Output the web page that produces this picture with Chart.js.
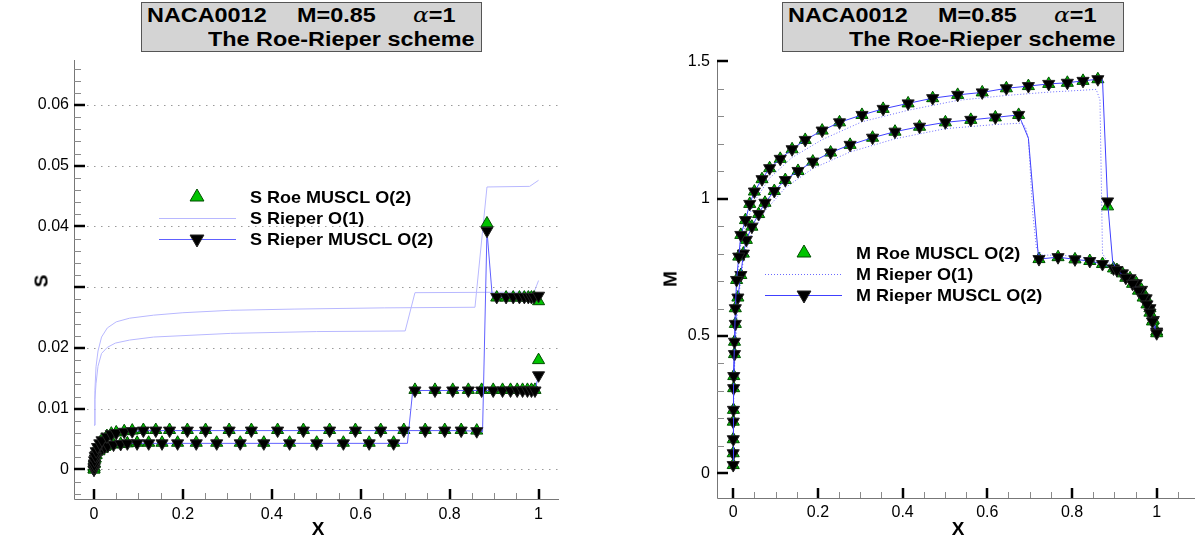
<!DOCTYPE html>
<html>
<head>
<meta charset="utf-8">
<script src="https://cdn.jsdelivr.net/npm/chart.js@4.4.1/dist/chart.umd.min.js"></script>
<style>
  body { margin: 0; background: #fff; width: 1203px; height: 539px; overflow: hidden; position: relative;
         font-family: 'Liberation Sans', Arial, sans-serif; }
  .panel { position: absolute; top: 0; height: 539px; }
  .tbox { position: absolute; top: 2px; height: 48px; background: #d4d4d4; border: 1px solid #555; }
  .tbox span { position: absolute; font-weight: bold; font-size: 20px; line-height: 20px; white-space: pre;
               transform: scaleX(1.17); transform-origin: 0 0; }
  .tbox .al { font-family: 'DejaVu Serif', serif; font-weight: normal; font-style: italic; }
  .ax { position: absolute; font-weight: bold; font-size: 19px; line-height: 19px; }
</style>
</head>
<body>

<div class="panel" style="left:0;width:600px"><canvas id="sChart" width="600" height="539"></canvas></div>
<div class="panel" style="left:600px;width:603px"><canvas id="mChart" width="603" height="539"></canvas></div>

<div class="tbox" style="left:141px;width:339px">
  <span style="left:5px;top:2px">NACA0012</span>
  <span style="left:155px;top:2px">M=0.85</span>
  <span style="left:271px;top:2px"><span class="al" style="position:static;transform:none">α</span>=1</span>
  <span style="left:66px;top:26px">The Roe-Rieper scheme</span>
</div>
<div class="tbox" style="left:782px;width:340px">
  <span style="left:5px;top:2px">NACA0012</span>
  <span style="left:155px;top:2px">M=0.85</span>
  <span style="left:271px;top:2px"><span class="al" style="position:static;transform:none">α</span>=1</span>
  <span style="left:66px;top:26px">The Roe-Rieper scheme</span>
</div>

<div class="ax" style="left:41px;top:281px;transform:translate(-50%,-50%) rotate(-90deg)">S</div>
<div class="ax" style="left:318px;top:528px;transform:translate(-50%,-50%)">X</div>
<div class="ax" style="left:670px;top:279px;transform:translate(-50%,-50%) rotate(-90deg)">M</div>
<div class="ax" style="left:958px;top:528px;transform:translate(-50%,-50%)">X</div>

<script>
// ---------- surface stations carrying markers ----------
const xUp = [0, 0.0002, 0.0006, 0.0013, 0.003, 0.005, 0.008, 0.013, 0.018, 0.029,
             0.039, 0.050, 0.068, 0.086, 0.111, 0.139, 0.170, 0.210, 0.251, 0.304,
             0.354, 0.413, 0.471, 0.530, 0.588, 0.645, 0.697, 0.745, 0.789, 0.826,
             0.861, 0.884, 0.906, 0.927, 0.943, 0.957, 0.968, 0.977, 0.984, 0.990,
             1.0];
const xLo = [0, 0.0002, 0.001, 0.003, 0.005, 0.011, 0.018, 0.024, 0.031, 0.044,
             0.060, 0.075, 0.097, 0.123, 0.153, 0.188, 0.230, 0.276, 0.329, 0.382,
             0.440, 0.501, 0.561, 0.619, 0.674, 0.722, 0.767, 0.807, 0.842, 0.872,
             0.898, 0.919, 0.937, 0.952, 0.964, 0.975, 0.984, 0.992, 1.0];

// ---------- entropy S ----------
const sRoeUp = [0, 0.0003, 0.0009, 0.0016, 0.0023, 0.0031, 0.0038, 0.0044, 0.0049, 0.0055,
                0.0059, 0.0061, 0.0063, 0.0064, 0.0065, 0.0065, 0.0065, 0.0065, 0.0065, 0.0065,
                0.0065, 0.0065, 0.0065, 0.0065, 0.0065, 0.0065, 0.0065, 0.0065, 0.0065, 0.0065,
                0.0064, 0.0405, 0.0283, 0.0283, 0.0283, 0.0283, 0.0283, 0.0283, 0.0283, 0.0283,
                0.0277];
const sRiepUp = [0, 0.0003, 0.0008, 0.0015, 0.0022, 0.0030, 0.0037, 0.0043, 0.0048, 0.0054,
                 0.0058, 0.0060, 0.0062, 0.0063, 0.0064, 0.0064, 0.0064, 0.0064, 0.0064, 0.0064,
                 0.0064, 0.0064, 0.0064, 0.0064, 0.0064, 0.0064, 0.0064, 0.0064, 0.0064, 0.0064,
                 0.0063, 0.0393, 0.0284, 0.0284, 0.0284, 0.0284, 0.0284, 0.0284, 0.0284, 0.0284,
                 0.0286];
const sRoeLo = [0, 0.0004, 0.0010, 0.0018, 0.0024, 0.0030, 0.0034, 0.0037, 0.0039, 0.0041,
                0.0042, 0.0043, 0.0044, 0.0044, 0.0044, 0.0044, 0.0044, 0.0044, 0.0044, 0.0044,
                0.0044, 0.0044, 0.0044, 0.0044, 0.0044, 0.0131, 0.0131, 0.0131, 0.0131, 0.0131,
                0.0131, 0.0131, 0.0131, 0.0131, 0.0131, 0.0131, 0.0131, 0.0131, 0.0180];
const sRiepLo = [0, 0.0004, 0.0010, 0.0018, 0.0024, 0.0030, 0.0034, 0.0037, 0.0039, 0.0041,
                 0.0042, 0.0043, 0.0043, 0.0043, 0.0043, 0.0043, 0.0043, 0.0043, 0.0043, 0.0043,
                 0.0043, 0.0043, 0.0043, 0.0043, 0.0043, 0.0130, 0.0130, 0.0130, 0.0130, 0.0130,
                 0.0130, 0.0130, 0.0130, 0.0130, 0.0130, 0.0130, 0.0130, 0.0130, 0.0155];
// unmarked points of the Rieper MUSCL curve inside the shocks
const xRampSUp = [0.874, 0.896];
const sRampUp = [0.0062, 0.0284];
const xRampSLo = [0.705, 0.717];
const sRampLo = [0.0043, 0.0130];
// first order Rieper (line only)
const xO1SUp = [0, 0.002, 0.0045, 0.009, 0.017, 0.03, 0.05, 0.08, 0.134, 0.2, 0.307, 0.45, 0.654, 0.857, 0.884, 0.98, 0.992, 1.0];
const sO1Up = [0.0073, 0.013, 0.0169, 0.0195, 0.0218, 0.0233, 0.0243, 0.0249, 0.0254, 0.0258, 0.0262, 0.0264, 0.0266, 0.0267, 0.0465, 0.0466, 0.0472, 0.0476];
const xO1SLo = [0, 0.002, 0.0045, 0.009, 0.017, 0.03, 0.048, 0.08, 0.134, 0.307, 0.5, 0.70, 0.722, 0.99, 1.0];
const sO1Lo = [0.0073, 0.0115, 0.0141, 0.017, 0.0191, 0.0201, 0.0208, 0.0213, 0.0218, 0.0224, 0.0227, 0.0228, 0.0291, 0.0292, 0.0311];

// ---------- Mach number M ----------
const mRoeUp = [0.030, 0.124, 0.231, 0.354, 0.479, 0.601, 0.704, 0.789, 0.868, 0.922,
                0.981, 1.026, 1.071, 1.111, 1.145, 1.180, 1.214, 1.248, 1.278, 1.305,
                1.327, 1.347, 1.366, 1.378, 1.387, 1.402, 1.410, 1.418, 1.422, 1.429,
                1.435, 0.972, 0.740, 0.712, 0.690, 0.665, 0.640, 0.615, 0.585, 0.553,
                0.510];
const mRiepUp = [0.030, 0.124, 0.231, 0.354, 0.479, 0.601, 0.704, 0.789, 0.868, 0.922,
                 0.981, 1.026, 1.071, 1.111, 1.145, 1.180, 1.214, 1.248, 1.278, 1.305,
                 1.327, 1.347, 1.366, 1.378, 1.387, 1.402, 1.410, 1.418, 1.422, 1.429,
                 1.435, 0.990, 0.740, 0.712, 0.690, 0.665, 0.640, 0.615, 0.585, 0.553,
                 0.510];
const mRoeLo = [0.073, 0.188, 0.310, 0.434, 0.544, 0.640, 0.722, 0.800, 0.850, 0.898,
                0.944, 0.985, 1.028, 1.068, 1.101, 1.135, 1.168, 1.196, 1.222, 1.244,
                1.262, 1.278, 1.287, 1.296, 1.305, 0.780, 0.787, 0.779, 0.773, 0.762,
                0.746, 0.728, 0.710, 0.692, 0.668, 0.637, 0.601, 0.558, 0.516];
const mRiepLo = [0.073, 0.188, 0.310, 0.434, 0.544, 0.640, 0.722, 0.800, 0.850, 0.898,
                 0.944, 0.985, 1.028, 1.068, 1.101, 1.135, 1.168, 1.196, 1.222, 1.244,
                 1.262, 1.278, 1.287, 1.296, 1.305, 0.780, 0.787, 0.779, 0.773, 0.762,
                 0.746, 0.728, 0.710, 0.692, 0.668, 0.637, 0.601, 0.558, 0.516];
const xRampMUp = [0.872, 0.896];
const mRampUp = [1.433, 0.770];
const xRampMLo = [0.681, 0.697, 0.720];
const mRampLo = [1.280, 1.220, 0.800];
const xO1MUp = [0, 0.0006, 0.003, 0.008, 0.018, 0.029, 0.05, 0.086, 0.139, 0.21, 0.304, 0.413, 0.53, 0.645, 0.745, 0.826, 0.857, 0.866, 0.872, 0.884, 0.906, 0.943, 0.968, 0.984, 1.0];
const mO1Up = [0.03, 0.22, 0.46, 0.68, 0.84, 0.90, 0.99, 1.075, 1.15, 1.215, 1.28, 1.322, 1.358, 1.376, 1.388, 1.395, 1.398, 1.36, 0.80, 0.77, 0.745, 0.69, 0.64, 0.585, 0.49];
const xO1MLo = [0, 0.0002, 0.001, 0.004, 0.011, 0.024, 0.044, 0.075, 0.123, 0.188, 0.276, 0.382, 0.501, 0.619, 0.68, 0.69, 0.697, 0.707, 0.716, 0.73, 0.80, 0.872, 0.919, 0.952, 0.975, 0.992, 1.0];
const mO1Lo = [0.05, 0.16, 0.29, 0.42, 0.62, 0.78, 0.875, 0.955, 1.04, 1.11, 1.17, 1.218, 1.255, 1.27, 1.275, 1.262, 1.22, 0.95, 0.82, 0.795, 0.792, 0.772, 0.73, 0.69, 0.635, 0.555, 0.48];

// ---------- ticks ----------
const xTicks = [0, 0.2, 0.4, 0.6, 0.8, 1];
const xTickLabels = ['0', '0.2', '0.4', '0.6', '0.8', '1'];
const sTicks = [0, 0.01, 0.02, 0.03, 0.04, 0.05, 0.06];
const sTickLabels = ['0', '0.01', '0.02', '', '0.04', '0.05', '0.06']; // 0.03 is covered by the axis title
const mTicks = [0, 0.5, 1, 1.5];
const mTickLabels = ['0', '0.5', '1', '1.5'];

const GREEN = '#00c400';
const BLACK = '#000';

// marker points plus the unmarked shock points, sorted along x
function curve(xs, ys, exX, exY) {
  const pts = xs.map((x, i) => ({ x: x, y: ys[i], mark: true }));
  if (exX) exX.forEach((x, i) => pts.push({ x: x, y: exY[i], mark: false }));
  return pts.sort((a, b) => a.x - b.x);
}

function muscl(xs, ys, exX, exY, color, dash) {
  return {
    data: curve(xs, ys, exX, exY), showLine: true, borderColor: color, borderWidth: 1, borderDash: dash || [],
    pointStyle: 'triangle', pointRotation: 180, pointBackgroundColor: BLACK, pointBorderColor: '#222',
    pointBorderWidth: 1, pointRadius: ctx => (ctx.raw && ctx.raw.mark ? 7 : 0)
  };
}
function roe(xs, ys) {
  return {
    data: curve(xs, ys), showLine: false, pointStyle: 'triangle', pointBackgroundColor: GREEN,
    pointBorderColor: '#004d00', pointBorderWidth: 1, pointRadius: 7
  };
}
function firstOrder(xs, ys, color, dash) {
  return { data: curve(xs, ys), showLine: true, borderColor: color, borderWidth: 1, borderDash: dash || [], pointRadius: 0 };
}

// dotted grid, axis lines and inward ticks like the original plot
const decorPlugin = {
  id: 'decor',
  beforeDatasetsDraw(chart, args, o) {
    const { ctx, chartArea: a, scales: { x, y } } = chart;
    ctx.save();
    if (o.grid) {
      ctx.strokeStyle = '#9a9a9a';
      ctx.lineWidth = 1;
      ctx.setLineDash([1.5, 5.5]);
      y.ticks.forEach(t => {
        const py = Math.round(y.getPixelForValue(t.value)) + 0.5;
        ctx.beginPath(); ctx.moveTo(a.left + 13, py); ctx.lineTo(a.right, py); ctx.stroke();
      });
      ctx.setLineDash([]);
    }
    ctx.strokeStyle = '#777';
    ctx.lineWidth = 1;
    ctx.beginPath();
    ctx.moveTo(a.left + 0.5, a.top); ctx.lineTo(a.left + 0.5, a.bottom + 0.5); ctx.lineTo(a.right, a.bottom + 0.5);
    ctx.stroke();

    const isMajor = (v, list) => list.some(m => Math.abs(m - v) < 1e-9);
    const minor = (scale, step, horiz) => {
      const majors = scale.ticks.map(t => t.value);
      ctx.strokeStyle = '#8a8a8a'; ctx.lineWidth = 1;
      for (let k = Math.ceil(scale.min / step); k * step <= scale.max; k++) {
        const v = k * step;
        if (isMajor(v, majors)) continue;
        const p = Math.round(scale.getPixelForValue(v)) + 0.5;
        ctx.beginPath();
        if (horiz) { ctx.moveTo(p, a.bottom); ctx.lineTo(p, a.bottom - 6); }
        else { ctx.moveTo(a.left, p); ctx.lineTo(a.left + 7, p); }
        ctx.stroke();
      }
    };
    minor(x, o.minorX, true);
    minor(y, o.minorY, false);

    ctx.strokeStyle = '#000'; ctx.lineWidth = 2.5;
    x.ticks.forEach(t => {
      const p = Math.round(x.getPixelForValue(t.value));
      ctx.beginPath(); ctx.moveTo(p, a.bottom); ctx.lineTo(p, a.bottom - 10); ctx.stroke();
    });
    y.ticks.forEach(t => {
      const p = Math.round(y.getPixelForValue(t.value));
      ctx.beginPath(); ctx.moveTo(a.left, p); ctx.lineTo(a.left + 11, p); ctx.stroke();
    });
    ctx.restore();
  }
};

function tri(ctx, x, y, r, down, fill, stroke) {
  const s = down ? -1 : 1;
  ctx.beginPath();
  ctx.moveTo(x, y - s * r);
  ctx.lineTo(x + r * 0.866, y + s * r / 2);
  ctx.lineTo(x - r * 0.866, y + s * r / 2);
  ctx.closePath();
  ctx.fillStyle = fill; ctx.fill();
  ctx.strokeStyle = stroke; ctx.lineWidth = 1; ctx.stroke();
}

// legend with line + marker samples, drawn inside the plot
const keyPlugin = {
  id: 'keyBox',
  afterDraw(chart, args, o) {
    const ctx = chart.ctx;
    ctx.save();
    o.items.forEach((it, i) => {
      const y = o.y + i * o.gap;
      if (it.line) {
        ctx.strokeStyle = it.line; ctx.lineWidth = 1;
        ctx.setLineDash(it.dash || []);
        ctx.beginPath(); ctx.moveTo(o.x0, y + 0.5); ctx.lineTo(o.x1, y + 0.5); ctx.stroke();
        ctx.setLineDash([]);
      }
      if (it.marker === 'up') tri(ctx, o.xm, y, 8, false, GREEN, '#004d00');
      if (it.marker === 'down') tri(ctx, o.xm, y, 8, true, BLACK, '#222');
      ctx.save();
      ctx.translate(o.xt, y);
      ctx.scale(1.06, 1);
      ctx.fillStyle = '#000';
      ctx.font = 'bold 17px "Liberation Sans", Arial, sans-serif';
      ctx.textBaseline = 'middle';
      ctx.fillText(it.label, 0, 1);
      ctx.restore();
    });
    ctx.restore();
  }
};

function axis(spec, size) {
  return {
    type: 'linear', min: spec.min, max: spec.max,
    afterFit: s => { if (s.isHorizontal()) s.height = size; else s.width = size; },
    afterBuildTicks: s => { s.ticks = spec.ticks.map(v => ({ value: v })); },
    ticks: {
      autoSkip: false, maxRotation: 0, padding: spec.pad, color: '#000',
      font: { family: "'Liberation Sans', Arial, sans-serif", size: 16 },
      callback: (v, i) => spec.labels[i]
    },
    grid: { display: false, drawTicks: false },
    border: { display: false }
  };
}

function makeChart(id, c) {
  return new Chart(document.getElementById(id), {
    type: 'scatter',
    data: { datasets: c.datasets },
    options: {
      responsive: false, animation: false, events: [],
      layout: { padding: c.padding },
      scales: { x: axis(c.x, c.xSize), y: axis(c.y, c.ySize) },
      plugins: { legend: { display: false }, tooltip: { enabled: false }, decor: c.decor, keyBox: c.key }
    },
    plugins: [decorPlugin, keyPlugin]
  });
}

// ---------- left: entropy ----------
makeChart('sChart', {
  padding: { left: 0, right: 41, top: 60, bottom: 0 },
  xSize: 40, ySize: 74,
  x: { min: -0.045, max: 1.046, ticks: xTicks, labels: xTickLabels, pad: 6 },
  y: { min: -0.00486, max: 0.0674, ticks: sTicks, labels: sTickLabels, pad: 5 },
  decor: { grid: true, minorX: 0.05, minorY: 0.002 },
  key: {
    x0: 159, x1: 236, xm: 197, xt: 250, y: 197, gap: 21,
    items: [
      { label: 'S Roe MUSCL O(2)', marker: 'up' },
      { label: 'S Rieper O(1)', line: '#b8b8ff' },
      { label: 'S Rieper MUSCL O(2)', line: '#6060ff', marker: 'down' }
    ]
  },
  datasets: [
    muscl(xUp, sRiepUp, xRampSUp, sRampUp, '#6060ff'),
    muscl(xLo, sRiepLo, xRampSLo, sRampLo, '#6060ff'),
    roe(xUp, sRoeUp),
    roe(xLo, sRoeLo),
    firstOrder(xO1SUp, sO1Up, '#b8b8ff'),
    firstOrder(xO1SLo, sO1Lo, '#b8b8ff')
  ]
});

// ---------- right: Mach number ----------
makeChart('mChart', {
  padding: { left: 0, right: 3, top: 60, bottom: 0 },
  xSize: 41, ySize: 117,
  x: { min: -0.0383, max: 1.0904, ticks: xTicks, labels: xTickLabels, pad: 5 },
  y: { min: -0.090, max: 1.505, ticks: mTicks, labels: mTickLabels, pad: 7 },
  decor: { grid: false, minorX: 0.05, minorY: 0.1 },
  key: {
    x0: 165, x1: 242, xm: 204, xt: 256, y: 253, gap: 21,
    items: [
      { label: 'M Roe MUSCL O(2)', marker: 'up' },
      { label: 'M Rieper O(1)', line: '#6a6aff', dash: [1, 2] },
      { label: 'M Rieper MUSCL O(2)', line: '#4040ff', marker: 'down' }
    ]
  },
  datasets: [
    muscl(xUp, mRiepUp, xRampMUp, mRampUp, '#4040ff'),
    muscl(xLo, mRiepLo, xRampMLo, mRampLo, '#4040ff'),
    roe(xUp, mRoeUp),
    roe(xLo, mRoeLo),
    firstOrder(xO1MUp, mO1Up, '#6a6aff', [1, 2]),
    firstOrder(xO1MLo, mO1Lo, '#6a6aff', [1, 2])
  ]
});
</script>
</body>
</html>
